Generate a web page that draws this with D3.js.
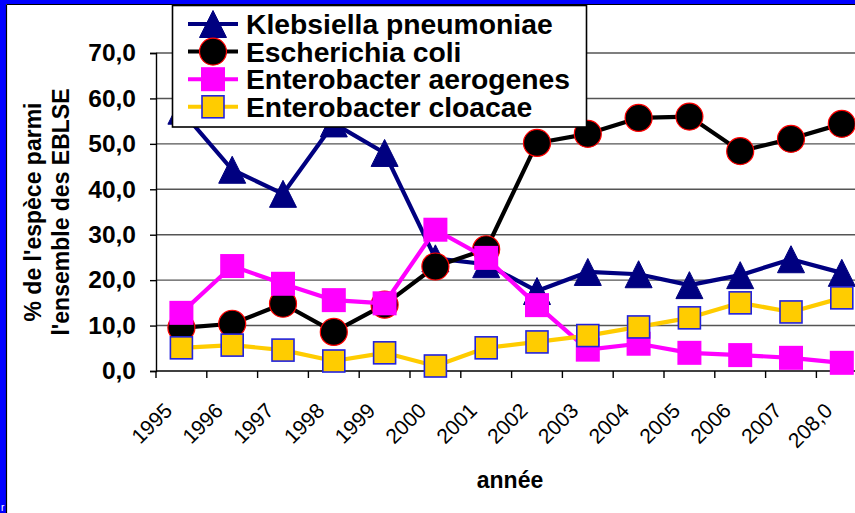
<!DOCTYPE html>
<html>
<head>
<meta charset="utf-8">
<script src="https://cdn.jsdelivr.net/npm/d3@7"></script>
<style>
  body { margin: 0; background: #fff; }
  svg { display: block; font-family: "Liberation Sans", Arial, sans-serif; }
</style>
</head>
<body>
<div class="chart"></div>
<script>
var years = ["1995","1996","1997","1998","1999","2000","2001","2002","2003","2004","2005","2006","2007","208,0"];
var klebsiella = [57.3, 44.3, 39.0, 54.5, 48.0, 24.8, 23.5, 17.6, 21.8, 21.3, 18.9, 21.1, 24.6, 21.6];
var ecoli      = [9.5, 10.4, 14.8, 8.6, 14.6, 23.0, 26.8, 50.2, 52.2, 55.7, 56.0, 48.4, 51.1, 54.4];
var aerogenes  = [12.8, 23.1, 19.2, 15.6, 14.9, 31.1, 24.9, 14.5, 4.7, 6.0, 4.0, 3.5, 2.9, 1.8];
var cloacae    = [5.1, 5.7, 4.6, 2.2, 4.0, 1.1, 5.1, 6.4, 7.8, 9.7, 11.7, 15.0, 13.0, 16.1];
var yTicks = [0, 10, 20, 30, 40, 50, 60, 70];
var seriesNames = ["Klebsiella pneumoniae", "Escherichia coli", "Enterobacter aerogenes", "Enterobacter cloacae"];

var width = 855, height = 513;

var svg = d3.select("div.chart").append("svg")
  .attr("width", width)
  .attr("height", height);

// blue frame on the left and top
svg.append("rect").attr("x", 0).attr("y", 0).attr("width", width).attr("height", 4).attr("fill", "#0000ff");
svg.append("rect").attr("x", 0).attr("y", 0).attr("width", 6).attr("height", height).attr("fill", "#0000ff");
svg.append("line").attr("x1", 6.5).attr("x2", width).attr("y1", 4.5).attr("y2", 4.5).attr("stroke", "#000").attr("stroke-width", 1.2);
svg.append("line").attr("x1", 6.5).attr("x2", 6.5).attr("y1", 4.5).attr("y2", height).attr("stroke", "#000").attr("stroke-width", 1.2);
svg.append("text").attr("x", 1).attr("y", 511).attr("fill", "#fff").style("font-size", "10px").text("r");

var x = d3.scaleBand().domain(years).range([156, 156 + 14 * 50.8]).padding(0);
var y = d3.scaleLinear().domain([0, 70]).range([371, 53]);
var cx = function(i) { return x(years[i]) + x.bandwidth() / 2; };

// gridlines
svg.append("g").selectAll("line")
  .data(yTicks.filter(function(d) { return d > 0; }))
  .enter().append("line")
  .attr("x1", 156).attr("x2", width)
  .attr("y1", function(d) { return y(d); })
  .attr("y2", function(d) { return y(d); })
  .attr("stroke", "#555").attr("stroke-width", 1.4);

// y axis
var yAxis = svg.append("g")
  .attr("transform", "translate(156,0)")
  .call(d3.axisLeft(y).tickValues(yTicks).tickSize(6).tickPadding(14)
    .tickFormat(function(d) { return d3.format(".1f")(d).replace(".", ","); }));
yAxis.select(".domain").attr("stroke", "#000").attr("stroke-width", 1.4);
yAxis.selectAll(".tick line").attr("stroke", "#000").attr("stroke-width", 1.4);
yAxis.selectAll(".tick text")
  .attr("fill", "#000")
  .style("font-size", "24.5px").style("font-weight", "bold")
  .style("font-family", "'Liberation Sans', Arial, sans-serif");

// x axis
var xg = svg.append("g");
xg.append("line").attr("x1", 156).attr("x2", width).attr("y1", 371).attr("y2", 371)
  .attr("stroke", "#000").attr("stroke-width", 1.4);
xg.selectAll("line.tk")
  .data(years)
  .enter().append("line")
  .attr("class", "tk")
  .attr("x1", function(d) { return x(d); }).attr("x2", function(d) { return x(d); })
  .attr("y1", 371).attr("y2", 378)
  .attr("stroke", "#000").attr("stroke-width", 1.4);
xg.selectAll("text")
  .data(years)
  .enter().append("text")
  .attr("transform", function(d, i) { return "translate(" + (cx(i) - 8) + ",412) rotate(-45)"; })
  .attr("text-anchor", "end")
  .style("font-size", "21px")
  .text(function(d) { return d; });

svg.append("text")
  .attr("x", 510).attr("y", 488)
  .attr("text-anchor", "middle")
  .style("font-size", "23px").style("font-weight", "bold")
  .text("année");

// y title
var yt = svg.append("text")
  .attr("transform", "translate(0,212) rotate(-90)")
  .attr("text-anchor", "middle")
  .style("font-size", "23px").style("font-weight", "bold");
yt.append("tspan").attr("x", 0).attr("y", 41).text("% de l'espèce parmi");
yt.append("tspan").attr("x", 0).attr("y", 69).text("l'ensemble des EBLSE");

// markers
function triangle(g) {
  g.append("path").attr("d", "M0,-13.5L13.5,13.5L-13.5,13.5Z").attr("fill", "#000080").attr("stroke", "#000080").attr("stroke-width", 1);
}
function circle(g) {
  g.append("circle").attr("r", 13.5).attr("fill", "#000").attr("stroke", "#ff0000").attr("stroke-width", 1.2);
}
function pinkSquare(g) {
  g.append("rect").attr("x", -12).attr("y", -12).attr("width", 24).attr("height", 24).attr("fill", "#ff00ff");
}
function yellowSquare(g) {
  g.append("rect").attr("x", -11).attr("y", -11).attr("width", 22).attr("height", 22)
    .attr("fill", "#ffcc00").attr("stroke", "#2222dd").attr("stroke-width", 1.6);
}

var series = [
  { values: klebsiella, color: "#000080", marker: triangle },
  { values: ecoli, color: "#000000", marker: circle },
  { values: aerogenes, color: "#ff00ff", marker: pinkSquare },
  { values: cloacae, color: "#ffcc00", marker: yellowSquare }
];

var line = d3.line()
  .x(function(d, i) { return cx(i); })
  .y(function(d) { return y(d); });

var plot = svg.append("g");
series.forEach(function(s) {
  plot.append("path")
    .datum(s.values)
    .attr("d", line)
    .attr("fill", "none")
    .attr("stroke", s.color)
    .attr("stroke-width", 4.2)
    .attr("stroke-linejoin", "round");
  plot.append("g").selectAll("g")
    .data(s.values)
    .enter().append("g")
    .attr("transform", function(d, i) { return "translate(" + cx(i) + "," + y(d) + ")"; })
    .each(function() { s.marker(d3.select(this)); });
});

// legend
var legend = svg.append("g");
legend.append("rect")
  .attr("x", 172.5).attr("y", 5.5).attr("width", 414).attr("height", 121.5)
  .attr("fill", "#fff").attr("stroke", "#000").attr("stroke-width", 1.6);
series.forEach(function(s, i) {
  var ly = 24 + i * 27.6;
  var g = legend.append("g");
  g.append("line").attr("x1", 188).attr("x2", 238).attr("y1", ly).attr("y2", ly)
    .attr("stroke", s.color).attr("stroke-width", 4);
  var m = g.append("g").attr("transform", "translate(213," + ly + ")");
  s.marker(m);
  g.append("text")
    .attr("x", 246).attr("y", ly + 10)
    .style("font-size", "28.3px").style("font-weight", "bold")
    .text(seriesNames[i]);
});
</script>
</body>
</html>
